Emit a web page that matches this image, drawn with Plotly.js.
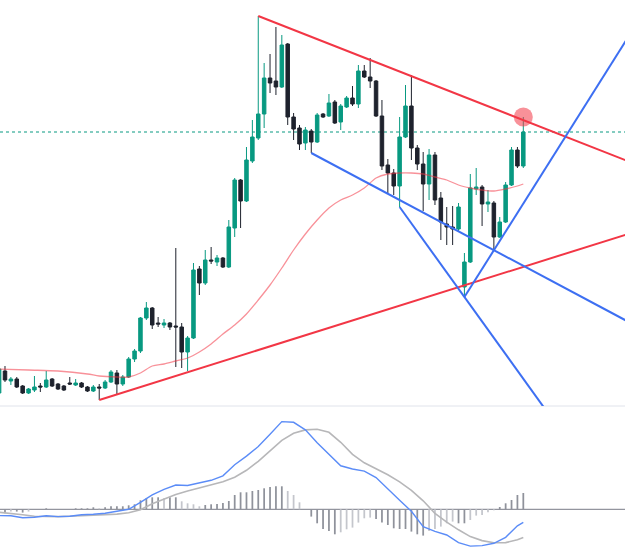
<!DOCTYPE html>
<html><head><meta charset="utf-8">
<script src="https://cdn.plot.ly/plotly-3.0.1.min.js"></script>
<style>html,body{margin:0;padding:0;background:#fff}#chart{width:625px;height:560px}</style>
</head><body><div id="chart"></div>
<script>
// OHLC values (price units), one per candle
const open = [17,39,29,31,24,17,20,24,23,31,
  26,24,27,25,27,23,19,23,22,28,
  37,26,33,51,59,92,102,87,85,87,
  84,83,58,72,141,127,150,148,152,143,
  182,230,209,249,272,296,332,329,323,366,
  293,282,267,279,268,296,294,308,288,303,
  312,306,339,333,329,294,245,237,224,273,
  304,262,246,226,255,212,186,183,181,123,
  148,221,223,206,207,173,188,225,260,244];
const high = [44,44,33,33,25,22,34,27,39,32,
  27,25,33,31,28,24,25,26,30,40,
  40,35,53,61,93,108,103,93,91,88,
  162,87,74,147,144,160,163,155,153,190,
  232,231,263,290,394,347,356,383,375,367,
  297,285,283,281,297,297,316,310,306,314,
  324,345,345,352,330,310,251,241,293,325,
  335,265,258,261,258,218,203,204,207,157,
  236,242,225,220,209,193,228,263,263,293];
const low = [14,28,25,22,16,16,18,18,22,23,
  20,19,25,24,22,18,18,10,21,27,
  15,24,32,48,57,90,81,83,82,80,
  43,42,39,71,115,125,146,144,142,142,
  173,182,208,247,270,282,317,315,322,285,
  270,260,260,257,267,292,293,286,280,302,
  304,302,332,322,293,240,217,215,203,272,
  250,240,199,210,205,170,165,165,179,113,
  147,215,184,198,160,172,187,224,242,242];
const close = [41,30,31,23,17,21,23,23,30,24,
  21,20,26,27,23,19,23,22,28,38,
  26,33,51,59,92,102,85,86,87,83,
  83,58,72,140,127,150,149,152,143,183,
  230,209,250,273,296,332,327,323,365,293,
  281,266,280,268,295,293,307,287,304,312,
  306,339,333,329,294,244,237,224,273,304,
  262,246,226,255,210,188,183,181,203,148,
  222,223,206,208,173,188,225,260,244,278];

// Moving average (candle index, value)
const maIdx = [0,5,10,15,17,20,22,24,26,28,30,32,34,36,38,40,42,44,46,48,50,52,54,56,58,60,62,64,66,68,70,72,74,76,78,80,82,84,86,88,89];
const maVal = [41,40,39,36,34,33,33,37,44,46,49,52,58,66,76,85,96,110,125,142,160,176,190,202,210,215,222,232,236,237,237,236,233,230,225,222,220,219,221,224,226];

// MACD panel
const macdIdx = [0,2,4,6,8,10,12,14,16,18,20,22,24,26,28,30,32,34,36,38,40,42,44,46,48,50,52,54,56,58,60,62,64,66,68,70,72,74,76,78,80,82,84,86,88,89];
const macdLine = [-6.3,-6.5,-8.5,-8,-6.5,-7.3,-7,-5.5,-5,-4,-2,0,7,14.5,20,24.3,23.8,26.5,29,33.5,44.5,53.2,62.7,75,87.7,87,79.5,66.5,55,43.5,40.3,38.2,31.7,20,9,-2,-17.3,-22,-25.7,-33.3,-36.8,-36.3,-34,-28,-16.5,-13];
const signalLine = [-3,-4,-5.5,-7,-7.3,-7.3,-7,-6.5,-6.2,-5.8,-4.8,-3.5,-0.5,5.5,10.5,14.7,18.4,21.5,24.5,27.5,32,39,48,58.5,69,76,79.4,80,77,67,55,46.5,40.5,34.5,27.5,19,8.5,-4,-12.8,-20.5,-27.3,-31.3,-33.5,-33.3,-30.5,-28.3];
const histogram = [0,-4,-2.3,-2.3,-3.3,-2.3,0,0,1,0,
  0,0,0,1,1,1,2,1,2,3,
  3,3,4,5,9,11,12,12,11,12,
  12,8,6,5,3,4.3,5,5.3,6.3,8.3,
  14.3,17,17,18.3,19.3,21,22.3,23,23,18.3,
  14.3,7,0,-7.3,-14,-19.7,-21.7,-25,-23,-20,
  -18.3,-13.3,-9,-8.3,-9.7,-13.3,-15.7,-19,-19.7,-19.7,
  -22.3,-25,-26.3,-21.7,-19.7,-17.3,-14,-12.3,-14,-14,
  -10.7,-6.3,-5.7,-3,-1,2.3,6,9.3,14.3,16.3];

// Drawn trend lines (candle index, price)
const redTopX = [44, 107], redTopY = [394, 248.3];
const redBottomX = [17, 107], redBottomY = [10, 176.4];
const blueUpperX = [53, 107], blueUpperY = [257, 87.7];
const blueSteepX = [68, 95], blueSteepY = [203, -17.9];
const blueRiseX = [79, 107], blueRiseY = [113, 374.8];

const idx = open.map((_, i) => i);
const last = close.length - 1;

const histColors = histogram.map((v, i) => {
  const prev = i > 0 ? Math.abs(histogram[i-1]) : 0;
  return Math.abs(v) >= prev ? '#8f929b' : '#c4c6cc';
});

const RED = '#f23645', BLUE = '#3d6ff2';
const tl = (x, y, c) => ({type:'scatter', mode:'lines', x:x, y:y, xaxis:'x', yaxis:'y',
  line:{color:c, width:2}, hoverinfo:'skip'});

const traces = [
  {type:'scatter', mode:'lines', x:maIdx, y:maVal, xaxis:'x', yaxis:'y',
   line:{color:'rgba(242,54,69,0.55)', width:1.3, shape:'spline', smoothing:0.8}, hoverinfo:'skip'},
  {type:'candlestick', x:idx, open:open, high:high, low:low, close:close, xaxis:'x', yaxis:'y',
   increasing:{line:{color:'#089981', width:1}, fillcolor:'#089981'},
   decreasing:{line:{color:'#1e222d', width:1}, fillcolor:'#1e222d'},
   whiskerwidth:0, hoverinfo:'skip'},
  tl(redTopX, redTopY, RED),
  tl(redBottomX, redBottomY, RED),
  tl(blueUpperX, blueUpperY, BLUE),
  tl(blueSteepX, blueSteepY, BLUE),
  tl(blueRiseX, blueRiseY, BLUE),
  {type:'scatter', mode:'markers', x:[last], y:[high[last]], xaxis:'x', yaxis:'y',
   marker:{size:19, color:'rgba(242,54,69,0.55)', line:{width:0}}, hoverinfo:'skip'},
  {type:'bar', x:idx, y:histogram, xaxis:'x', yaxis:'y2', width:0.3,
   marker:{color:histColors, line:{width:0}}, hoverinfo:'skip'},
  {type:'scatter', mode:'lines', x:macdIdx, y:signalLine, xaxis:'x', yaxis:'y2',
   line:{color:'#b7b7b9', width:1.6}, hoverinfo:'skip'},
  {type:'scatter', mode:'lines', x:macdIdx, y:macdLine, xaxis:'x', yaxis:'y2',
   line:{color:'#5b8cf7', width:1.4}, hoverinfo:'skip'}
];

const layout = {
  width:625, height:560, margin:{l:0, r:0, t:0, b:0},
  paper_bgcolor:'#ffffff', plot_bgcolor:'#ffffff', showlegend:false,
  boxgap:0.15,
  xaxis:{range:[0.153, 106.265], visible:false, rangeslider:{visible:false}, fixedrange:true},
  yaxis:{domain:[0.275, 1], range:[4, 410], visible:false, fixedrange:true},
  yaxis2:{domain:[0, 0.275], range:[-50.7, 103.3], visible:false, anchor:'x', fixedrange:true},
  shapes:[
    {type:'line', xref:'paper', yref:'paper', x0:0, x1:1, y0:0.275, y1:0.275,
     line:{color:'#e0e3eb', width:1}, layer:'below'},
    {type:'line', xref:'paper', yref:'y', x0:0, x1:1, y0:close[last], y1:close[last],
     line:{color:'#089981', width:1, dash:'dot'}, layer:'below'},
    {type:'line', xref:'paper', yref:'y2', x0:0, x1:1, y0:0, y1:0,
     line:{color:'#787b86', width:1}, layer:'below'}
  ]
};

Plotly.newPlot('chart', traces, layout, {displayModeBar:false, staticPlot:true});
</script>
</body></html>
